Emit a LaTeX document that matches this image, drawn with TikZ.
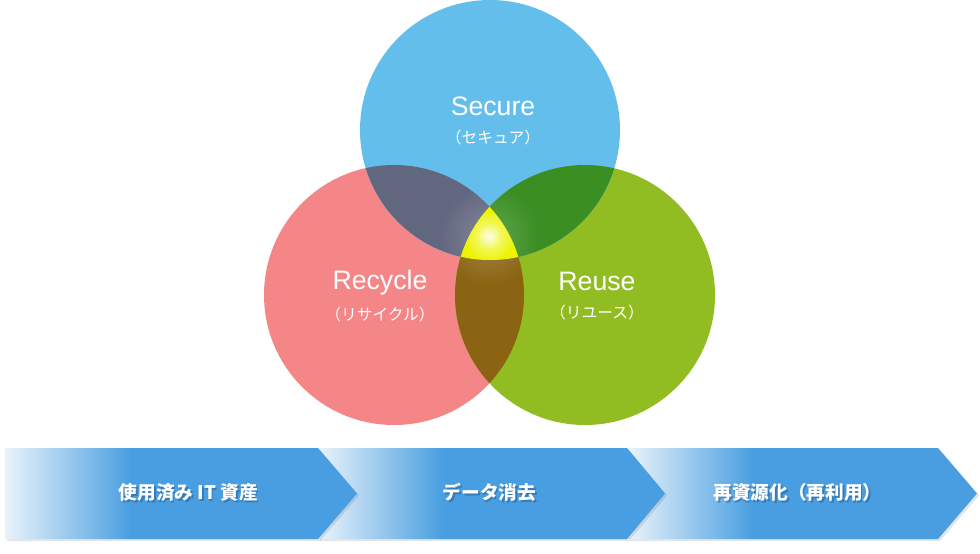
\documentclass[tikz,border=0pt]{standalone}
\usepackage{fontspec}
\setmainfont{Liberation Sans}
\newfontfamily\jpfont{Noto Sans CJK JP}
\usetikzlibrary{fadings}
\definecolor{cblue}{RGB}{99,190,236}
\definecolor{cpink}{RGB}{244,134,135}
\definecolor{cgreen}{RGB}{146,189,34}
\definecolor{cslate}{RGB}{98,103,128}
\definecolor{cdkgreen}{RGB}{58,142,34}
\definecolor{cbrown}{RGB}{138,100,18}
\definecolor{cyellow}{RGB}{236,244,0}
\definecolor{cglow}{RGB}{250,252,170}
\definecolor{chev}{RGB}{72,158,224}
\definecolor{chevlight}{RGB}{234,243,251}
\definecolor{tshadow}{RGB}{20,60,110}
\pgfdeclarehorizontalshading{chevshade}{100bp}{color(0bp)=(chevlight); color(25bp)=(chevlight); color(43bp)=(chev); color(100bp)=(chev)}
\tikzfading[name=glowfade, inner color=transparent!0, outer color=transparent!100]
\tikzset{
  title/.style={text=white, font=\fontsize{20}{24}\selectfont, inner sep=0pt},
  sub/.style={text=white, font=\jpfont\fontsize{11.8}{14}\selectfont, inner sep=0pt},
  chevtext/.style={text=white, font=\jpfont\bfseries\fontsize{14}{17}\selectfont, inner sep=0pt},
  chevshadow/.style={text=tshadow, text opacity=0.35, font=\jpfont\bfseries\fontsize{14}{17}\selectfont, inner sep=0pt},
}
\begin{document}
\begin{tikzpicture}[x=0.75pt,y=-0.75pt]
\useasboundingbox (0,0) rectangle (980,553);
\def\Sc{(490,130) circle[radius=130]}
\def\Rc{(394,295) circle[radius=130]}
\def\Uc{(585,295) circle[radius=130]}
% base circles
\fill[cpink] \Rc;
\fill[cgreen] \Uc;
\fill[cblue] \Sc;
% pairwise overlaps
\begin{scope}\clip \Sc; \fill[cslate] \Rc; \end{scope}
\begin{scope}\clip \Sc; \fill[cdkgreen] \Uc; \end{scope}
\begin{scope}\clip \Rc; \fill[cbrown] \Uc; \end{scope}
% soft glow in overlaps
\begin{scope}\clip \Sc; \clip \Rc; \fill[white, fill opacity=0.22, path fading=glowfade] (489,236) circle[radius=50]; \end{scope}
\begin{scope}\clip \Sc; \clip \Uc; \fill[white, fill opacity=0.22, path fading=glowfade] (489,236) circle[radius=50]; \end{scope}
\begin{scope}\clip \Rc; \clip \Uc; \fill[white, fill opacity=0.22, path fading=glowfade] (489,236) circle[radius=50]; \end{scope}
% triple overlap
\begin{scope}\clip \Sc; \clip \Rc; \clip \Uc;
  \fill[cyellow] (300,150) rectangle (700,300);
  \fill[cglow, path fading=glowfade] (489,236) circle[radius=26];
  \fill[white, fill opacity=0.6, path fading=glowfade] (489,236) circle[radius=12];
\end{scope}
% circle labels
\node[title] (secure) at (493,106) {Secure};
\node[sub] (securejp) at (493,138) {（セキュア）};
\node[title] (recycle) at (380,283) {Recycle};
\node[sub] (recyclejp) at (380,315) {（リサイクル）};
\node[title] (reuse) at (597,281) {Reuse};
\node[sub] (reusejp) at (597,313) {（リユース）};
% chevrons (drawn right to left so earlier ones lie on top)
\fill[black, opacity=0.10] (630,450) -- (940,450) -- (979,495.5) -- (940,541) -- (630,541) -- cycle;
\shade[shading=chevshade] (628,448) -- (938,448) -- (977,493.5) -- (938,539) -- (628,539) -- cycle;
\fill[black, opacity=0.10] (320,450) -- (629,450) -- (667,495.5) -- (629,541) -- (320,541) -- cycle;
\shade[shading=chevshade] (318,448) -- (627,448) -- (665,493.5) -- (627,539) -- (318,539) -- cycle;
\fill[black, opacity=0.10] (7,450) -- (320,450) -- (359,495.5) -- (320,541) -- (7,541) -- cycle;
\shade[shading=chevshade] (5,448) -- (318,448) -- (357,493.5) -- (318,539) -- (5,539) -- cycle;
% chevron labels
\node[chevshadow] (c1s) at (190,494) {使用済み IT 資産};
\node[chevtext] (c1) at (188.5,492.5) {使用済み IT 資産};
\node[chevshadow] (c2s) at (491,494) {データ消去};
\node[chevtext] (c2) at (489.5,492.5) {データ消去};
\node[chevshadow] (c3s) at (799,494) {再資源化（再利用）};
\node[chevtext] (c3) at (797.5,492.5) {再資源化（再利用）};
\end{tikzpicture}
\end{document}
